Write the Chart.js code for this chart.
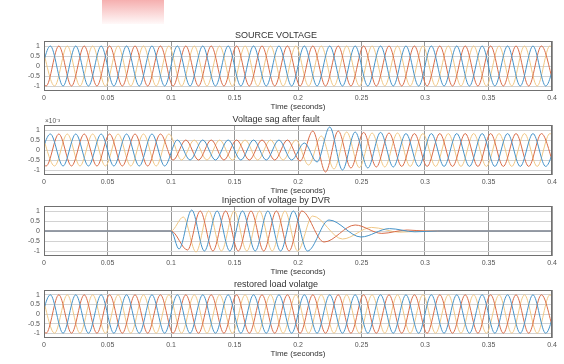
<!DOCTYPE html>
<html>
<head>
<meta charset="utf-8">
<script src="https://cdn.jsdelivr.net/npm/chart.js@4.4.1/dist/chart.umd.min.js"></script>
<style>
  html, body { margin: 0; padding: 0; background: #fff; }
  body { width: 564px; height: 364px; position: relative; overflow: hidden; }
  canvas { position: absolute; left: 0; }
  #smudge { position: absolute; left: 102px; top: 0; width: 62px; height: 24px;
    background: linear-gradient(to bottom, rgba(236, 96, 96, 0.5), rgba(255, 205, 205, 0.12)); }
</style>
</head>
<body>
<div id="smudge"></div>
<canvas id="sourceChart" width="564" height="87" style="top:26px"></canvas>
<canvas id="sagChart" width="564" height="87" style="top:110px"></canvas>
<canvas id="dvrChart" width="564" height="87" style="top:191px"></canvas>
<canvas id="loadChart" width="564" height="85" style="top:275px"></canvas>
<script>
// axis ticks
const timeTicks = [0, 0.05, 0.1, 0.15, 0.2, 0.25, 0.3, 0.35, 0.4];
const voltTicks = [-1, -0.5, 0, 0.5, 1];
const phaseNames = ['Phase A', 'Phase B', 'Phase C'];
const phaseColors = ['#4693c9', '#d96c48', '#f0c785'];

// 50 Hz: one peak every half cycle, first peak time for each phase
const halfCycle = 0.01;
const gridStart = [-0.005, -0.00833, -0.00167];

// SOURCE VOLTAGE, signed peak of each half cycle
const sourceA = [-1,1,-1,1,-1,1,-1,1,-1,1,-1,1,-1,1,-1,1,-1,1,-1,1,-1,1,-1,1,-1,1,-1,1,-1,1,-1,1,-1,1,-1,1,-1,1,-1,1,-1,1];
const sourceB = [1,-1,1,-1,1,-1,1,-1,1,-1,1,-1,1,-1,1,-1,1,-1,1,-1,1,-1,1,-1,1,-1,1,-1,1,-1,1,-1,1,-1,1,-1,1,-1,1,-1,1,-1];
const sourceC = [1,-1,1,-1,1,-1,1,-1,1,-1,1,-1,1,-1,1,-1,1,-1,1,-1,1,-1,1,-1,1,-1,1,-1,1,-1,1,-1,1,-1,1,-1,1,-1,1,-1,1,-1];

// Voltage sag after fault (x10^-3)
const sagA = [-0.8,0.8,-0.8,0.8,-0.8,0.8,-0.8,0.8,-0.8,0.8,-0.8,
  0.5,-0.5,0.5,-0.5,0.5,-0.5,0.5,-0.5,0.5,-0.5,
  0.35,-0.6,1.15,-1.0,0.9,-0.9,0.88,-0.85,
  0.82,-0.82,0.82,-0.82,0.82,-0.82,0.82,-0.82,0.82,-0.82,0.82,-0.82,0.82];
const sagB = [0.8,-0.8,0.8,-0.8,0.8,-0.8,0.8,-0.8,0.8,-0.8,0.8,
  -0.5,0.5,-0.5,0.5,-0.5,0.5,-0.5,0.5,-0.5,0.5,
  -0.55,0.95,-1.1,0.95,-0.9,0.88,-0.85,0.85,
  -0.82,0.82,-0.82,0.82,-0.82,0.82,-0.82,0.82,-0.82,0.82,-0.82,0.82,-0.82];
const sagC = [0.8,-0.8,0.8,-0.8,0.8,-0.8,0.8,-0.8,0.8,-0.8,0.8,
  -0.5,0.5,-0.5,0.5,-0.5,0.5,-0.5,0.5,-0.5,0.5,
  -0.75,0.7,-0.95,0.9,-0.88,0.85,-0.85,0.85,
  -0.82,0.82,-0.82,0.82,-0.82,0.82,-0.82,0.82,-0.82,0.82,-0.82,0.82,-0.82];

// Injection of voltage by DVR: zero until 0.1 s, peaks to 0.2 s, then a decaying tail
const dvrOn = 0.1;
const dvrStart = [0.1063, 0.113, 0.1097];
const dvrA = [-0.9, 1.05, -1.0, 1.0, -1.0, 1.0, -1.0, 1.0, -1.0, 1.0];
const dvrB = [-0.95, 1.0, -1.0, 1.0, -1.0, 1.0, -1.0, 1.0, -1.0, 1.0];
const dvrC = [0.7, -1.05, 1.0, -1.0, 1.0, -1.0, 1.0, -1.0, 1.0, -1.0];
const dvrTailA = [[0.2075, -1.0], [0.2244, 0.55], [0.2496, -0.3], [0.272, 0.12], [0.292, -0.04], [0.31, 0], [0.4, 0]];
const dvrTailB = [[0.2205, -0.55], [0.245, 0.3], [0.266, -0.12], [0.286, 0.05], [0.3, 0], [0.4, 0]];
const dvrTailC = [[0.2115, 0.75], [0.235, -0.4], [0.258, 0.18], [0.28, -0.06], [0.3, 0], [0.4, 0]];

// restored load volatge reads the same as the source
const loadA = sourceA, loadB = sourceB, loadC = sourceC;

const fontFamily = '"Liberation Sans", Arial, sans-serif';

function gridPoints(start, peaks) {
  return peaks.map((v, i) => ({ x: start + i * halfCycle, y: v }));
}
function pairPoints(pairs) {
  return pairs.map(p => ({ x: p[0], y: p[1] }));
}

const framePlugin = {
  id: 'frame',
  afterDraw(chart) {
    const a = chart.chartArea, ctx = chart.ctx;
    ctx.save();
    ctx.strokeStyle = '#707070';
    ctx.lineWidth = 1;
    ctx.strokeRect(a.left + 0.5, a.top + 0.5, a.right - a.left - 1, a.bottom - a.top - 1);
    ctx.restore();
  }
};

const exponentPlugin = {
  id: 'exponent',
  afterDraw(chart) {
    const a = chart.chartArea, ctx = chart.ctx;
    ctx.save();
    ctx.fillStyle = '#555';
    ctx.font = '6.5px ' + fontFamily;
    ctx.textBaseline = 'bottom';
    ctx.fillText('×10⁻³', a.left + 1, a.top - 1);
    ctx.restore();
  }
};

function makePanel(id, title, series, extra) {
  const ctx = document.getElementById(id).getContext('2d');
  return new Chart(ctx, {
    type: 'line',
    data: {
      datasets: series.map((pts, i) => ({
        label: phaseNames[i],
        data: pts,
        borderColor: phaseColors[i],
        borderWidth: 1,
        pointRadius: 0,
        fill: false,
        cubicInterpolationMode: 'monotone'
      }))
    },
    options: {
      responsive: false,
      animation: false,
      devicePixelRatio: 1,
      layout: { padding: { left: 0, right: 12, top: 0, bottom: 0 } },
      plugins: {
        legend: { display: false },
        tooltip: { enabled: false },
        title: {
          display: true, text: title, color: '#333',
          font: { family: fontFamily, size: 9, weight: 'normal', lineHeight: '10px' },
          padding: { top: 5, bottom: 0 }
        }
      },
      scales: {
        x: {
          type: 'linear', min: 0, max: 0.4,
          afterBuildTicks: s => { s.ticks = timeTicks.map(v => ({ value: v })); },
          afterFit: s => { s.height = 22; },
          ticks: { callback: v => String(v), color: '#555', font: { family: fontFamily, size: 7 },
                   padding: 3, maxRotation: 0, autoSkip: false },
          grid: { color: '#979797', drawTicks: false },
          border: { display: false },
          title: { display: true, text: 'Time (seconds)', color: '#333',
                   font: { family: fontFamily, size: 8 }, padding: { top: 0, bottom: 1 } }
        },
        y: {
          min: -1.25, max: 1.25,
          afterBuildTicks: s => { s.ticks = voltTicks.map(v => ({ value: v })); },
          afterFit: s => { s.width = 44; },
          ticks: { callback: v => String(v), color: '#555', font: { family: fontFamily, size: 7 }, padding: 4 },
          grid: { color: '#d2d2d2', drawTicks: false },
          border: { display: false }
        }
      }
    },
    plugins: [framePlugin].concat(extra || [])
  });
}

const sourceSeries = [sourceA, sourceB, sourceC].map((p, i) => gridPoints(gridStart[i], p));
const sagSeries = [sagA, sagB, sagC].map((p, i) => gridPoints(gridStart[i], p));
const dvrPeaks = [dvrA, dvrB, dvrC];
const dvrTails = [dvrTailA, dvrTailB, dvrTailC];
const dvrSeries = dvrPeaks.map((p, i) =>
  [{ x: 0, y: 0 }, { x: dvrOn, y: 0 }].concat(gridPoints(dvrStart[i], p), pairPoints(dvrTails[i])));
const loadSeries = [loadA, loadB, loadC].map((p, i) => gridPoints(gridStart[i], p));

makePanel('sourceChart', 'SOURCE VOLTAGE', sourceSeries);
makePanel('sagChart', 'Voltage sag after fault', sagSeries, [exponentPlugin]);
makePanel('dvrChart', 'Injection of voltage by DVR', dvrSeries);
makePanel('loadChart', 'restored load volatge', loadSeries);
</script>
</body>
</html>
